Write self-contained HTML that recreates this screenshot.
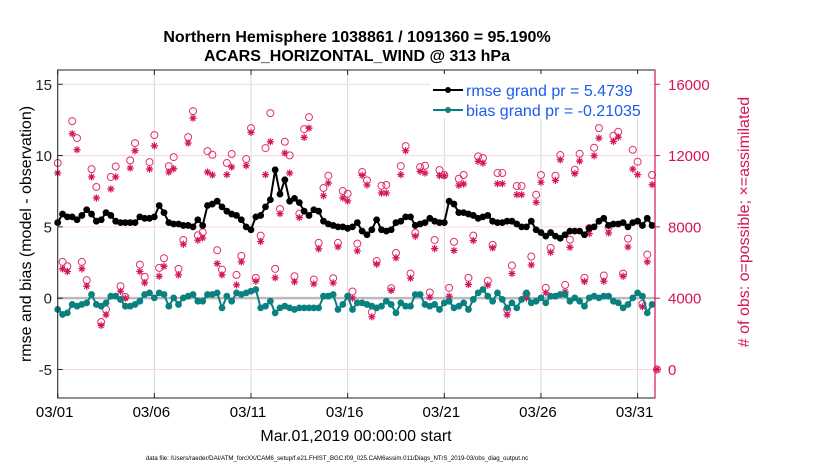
<!DOCTYPE html>
<html><head><meta charset="utf-8">
<style>
html,body{margin:0;padding:0;background:#fff;}
svg{display:block;font-family:"Liberation Sans",Arial,sans-serif;}
</style></head>
<body>
<svg id="chart" width="830" height="470" viewBox="0 0 830 470">
<text x="357" y="42" text-anchor="middle" font-size="16" font-weight="bold">Northern Hemisphere 1038861 / 1091360 = 95.190%</text>
<text x="357" y="61" text-anchor="middle" font-size="16" font-weight="bold">ACARS_HORIZONTAL_WIND @ 313 hPa</text>
<g id="grid"></g>
<g id="marks"></g>
<g id="axes"></g>
<text transform="translate(31,234) rotate(-90)" text-anchor="middle" font-size="16">rmse and bias (model - observation)</text>
<text transform="translate(749,222) rotate(-90)" text-anchor="middle" font-size="16" fill="#d4145a"># of obs: o=possible; ×=assimilated</text>
<text x="356" y="441" text-anchor="middle" font-size="16">Mar.01,2019 00:00:00 start</text>
<text x="337" y="460" text-anchor="middle" font-size="6.1">data file: /Users/raeder/DAI/ATM_forcXX/CAM6_setup/f.e21.FHIST_BGC.f09_025.CAM6assim.011/Diags_NTrS_2019-03/obs_diag_output.nc</text>
<g>
<rect x="430" y="74" width="220" height="44" fill="#fff"/>
<g>
<line x1="433" y1="90" x2="463" y2="90" stroke="#000" stroke-width="2"/>
<circle cx="448" cy="90" r="3" fill="#000"/>
<text x="466" y="96" font-size="16" fill="#1a5cf0">rmse grand pr = 5.4739</text>
</g>
<g>
<line x1="433" y1="110" x2="463" y2="110" stroke="#0a8080" stroke-width="2"/>
<circle cx="448" cy="110" r="3" fill="#0a8080"/>
<text x="466" y="116" font-size="16" fill="#1a5cf0">bias grand pr = -0.21035</text>
</g>
</g>
</svg>
<script>
const rmse=[5.3,5.9,5.7,5.7,5.5,5.8,6.2,5.9,5.4,5.5,6.0,5.8,5.4,5.3,5.3,5.3,5.3,5.7,5.6,5.6,5.7,6.5,6.0,5.3,5.2,5.2,5.1,5.1,5.0,5.5,5.1,6.5,6.6,6.8,6.4,6.1,5.9,5.8,5.5,5.0,
4.8,5.7,5.8,6.4,6.9,9.0,7.3,8.3,6.8,7.0,6.7,6.1,5.8,6.2,6.1,5.4,5.2,5.1,5.0,5.0,4.9,5.0,5.3,4.7,4.45,4.8,5.5,4.8,4.7,4.8,5.3,5.4,5.7,5.7,5.1,5.2,5.3,5.6,5.4,5.3,5.3,6.8,
6.6,6.0,6.0,5.9,5.8,5.6,5.7,5.8,5.4,5.3,5.3,5.4,5.4,5.2,5.0,5.0,5.4,4.8,4.6,4.35,4.6,4.35,4.2,4.45,4.7,4.7,4.7,4.45,4.9,5.0,5.4,5.6,5.1,5.2,5.2,5.3,5.0,5.3,5.4,5.1,5.6,5.1];
const bias=[-0.79,-1.14,-1.03,-0.44,-0.56,-0.44,-0.33,0.26,-0.44,-0.56,-0.33,0.14,0.14,-0.09,-0.56,-0.56,-0.44,-0.21,0.26,0.37,0.02,0.37,0.26,-0.56,0.02,-0.44,0.02,0.14,0.26,-0.21,-0.21,0.26,0.26,0.37,-0.68,0.14,-0.21,0.37,0.26,0.37,
0.49,0.61,-0.68,-0.56,-0.21,-1.03,-0.68,-0.56,-0.68,-0.79,-0.68,-0.68,-0.68,-0.68,-0.68,0.14,0.14,0.26,-0.79,-0.44,0.14,-0.79,-0.33,-0.33,-0.44,-0.56,-0.68,-0.56,-0.21,-0.44,-1.03,-0.33,-0.56,-0.56,0.26,0.26,-0.44,-0.56,-0.44,-0.79,-0.33,-0.21,
-0.68,-0.56,-0.33,-0.79,-0.09,0.37,0.61,0.14,-0.21,0.37,-0.09,-0.68,-0.33,-0.68,-0.09,0.37,-0.33,-0.21,0.02,-0.33,0.14,0.14,0.26,0.26,-0.21,0.02,-0.21,-0.56,0.02,0.14,0.02,0.14,0.14,-0.21,-0.33,-0.68,-0.44,0.02,0.37,0.14,-1.03,-0.44];
const possible=[11580,6035,5790,13930,12980,6035,5010,11240,10240,2660,3365,10800,11390,4670,4075,11730,12700,5885,5195,11635,13150,5700,6240,11410,11915,5645,7265,13035,14490,7530,7700,12250,12045,6690,5605,11580,12085,5305,6370,11805,
13540,5140,7510,12420,14380,5645,9005,12775,12010,5230,8740,13485,14155,5045,7100,10180,10870,5120,7100,10010,9860,4375,7060,11075,10610,3215,6090,10310,10350,4560,6540,11410,12530,5380,7660,11355,11430,4320,7265,11190,10910,4580,
7155,10700,10910,5140,7510,11955,11860,4970,6990,11020,11020,3365,5830,10290,10290,4225,6335,9805,10910,4580,6820,10870,12030,4745,7285,11205,12100,5140,7940,12440,13540,5270,7975,13110,13335,5380,7340,12325,11655,3680,6445,10910,0];
const assimilated=[11020,5645,5495,13225,12325,5645,4670,10800,9620,2470,3065,10125,10800,4390,4000,11300,12270,5495,4860,11240,12550,5230,5790,11075,11260,5305,7025,12700,14100,7250,7380,11075,10910,5940,5305,10930,11355,4745,6035,11430,
13300,4950,7175,10930,12775,5140,8740,12140,11020,4915,8520,13020,13540,4800,6765,9750,10460,4860,6875,9620,9450,4000,6650,10890,10350,2955,5905,9900,9900,4430,6260,10930,12270,5120,7475,11115,11020,4055,6780,10870,10870,4110,
6670,10330,10405,4765,7230,11675,11580,4730,6820,10420,10420,3065,5380,9805,9805,4000,5865,9375,10500,4300,6575,10610,11765,4355,6855,10985,11690,4935,7620,11990,12980,4950,7660,12795,13035,5230,6875,11240,10930,3515,6035,10365,0];
const xTickDays=[0,5,10,15,20,25,30];
const xTickLabels=["03/01","03/06","03/11","03/16","03/21","03/26","03/31"];
const yTicksLeft=[-5,0,5,10,15];
const yTicksRight=[0,4000,8000,12000,16000];

const NS="http://www.w3.org/2000/svg";
const L=57.7,R=655,T=70,B=398;
const xMin=0,xMax=30.9,yMin=-7,yMax=16;
function xs(d){return L+(d-xMin)/(xMax-xMin)*(R-L);}
function ys(v){return B-(v-yMin)/(yMax-yMin)*(B-T);}
function yr(c){return ys(c/800-5);}
function mk(tag,attrs,parent){const e=document.createElementNS(NS,tag);for(const k in attrs)e.setAttribute(k,attrs[k]);parent.appendChild(e);return e;}
const grid=document.getElementById('grid'),marks=document.getElementById('marks'),axes=document.getElementById('axes');
mk('rect',{x:L,y:T,width:R-L,height:B-T,fill:'#fff'},grid);
xTickDays.forEach((d,i)=>{
  const g=mk('line',{x1:xs(d),x2:xs(d),y1:T,y2:B,stroke:'#d8d8d8','stroke-width':1},grid);
  
  
  const t=mk('line',{x1:xs(d),x2:xs(d),y1:B,y2:B-5,stroke:'#222'},axes);
  
  
  const t2=mk('line',{x1:xs(d),x2:xs(d),y1:T,y2:T+5,stroke:'#222'},axes);
  
  
  const lb=mk('text',{x:xs(d)-3,y:417,'text-anchor':'middle','font-size':15},axes);
  lb.textContent=xTickLabels[i];
  
  
});
yTicksLeft.forEach(v=>{
  const g=mk('line',{x1:L,x2:R,y1:ys(v),y2:ys(v),stroke:'#f6d6e0','stroke-width':1},grid);
  
  
  const t=mk('line',{x1:L,x2:L+5,y1:ys(v),y2:ys(v),stroke:'#222'},axes);
  
  
  const lb=mk('text',{x:52,y:ys(v)+5.5,'text-anchor':'end','font-size':15,fill:'#222'},axes);
  lb.textContent=String(v);
  
  
});
yTicksRight.forEach(c=>{
  const t=mk('line',{x1:R,x2:R+5,y1:yr(c),y2:yr(c),stroke:'#d4145a'},axes);
  
  
  const lb=mk('text',{x:668,y:yr(c)+5.5,'font-size':15,fill:'#d4145a'},axes);
  lb.textContent=String(c);
  
  
});
const zl=mk('line',{x1:L,x2:R,y1:ys(0),y2:ys(0),stroke:'#bbbbbb','stroke-width':2.5},grid);


const day=i=>i*0.25;
possible.forEach((c,i)=>{
  const o=mk('circle',{cx:xs(day(i)),cy:yr(c),r:3.5,fill:'none',stroke:'#e0306a','stroke-width':1},marks);
  
  
});
assimilated.forEach((c,i)=>{
  const x=xs(day(i)),y=yr(c),r=3.6,q=r*0.7;
  const d=`M${x-r},${y}H${x+r}M${x},${y-r}V${y+r}M${x-q},${y-q}L${x+q},${y+q}M${x-q},${y+q}L${x+q},${y-q}`;
  const a=mk('path',{d:d,stroke:'#d4145a','stroke-width':1.2,fill:'none'},marks);
  
  
});
function series(vals,color,name){
  const pts=vals.map((v,i)=>xs(day(i)).toFixed(1)+','+ys(v).toFixed(1)).join(' ');
  const pl=mk('polyline',{points:pts,fill:'none',stroke:color,'stroke-width':2},marks);
  
  
  vals.forEach((v,i)=>{
    const c=mk('circle',{cx:xs(day(i)),cy:ys(v),r:3.4,fill:color},marks);
    
    
  });
}
series(bias,'#0a8080','bias');
series(rmse,'#000000','rmse');
const fr=mk('rect',{x:L,y:T,width:R-L,height:B-T,fill:'none',stroke:'#222','stroke-width':1},axes);


const rs=mk('line',{x1:R,x2:R,y1:T,y2:B,stroke:'#d4145a','stroke-width':1.2},axes);


</script>
</body></html>
